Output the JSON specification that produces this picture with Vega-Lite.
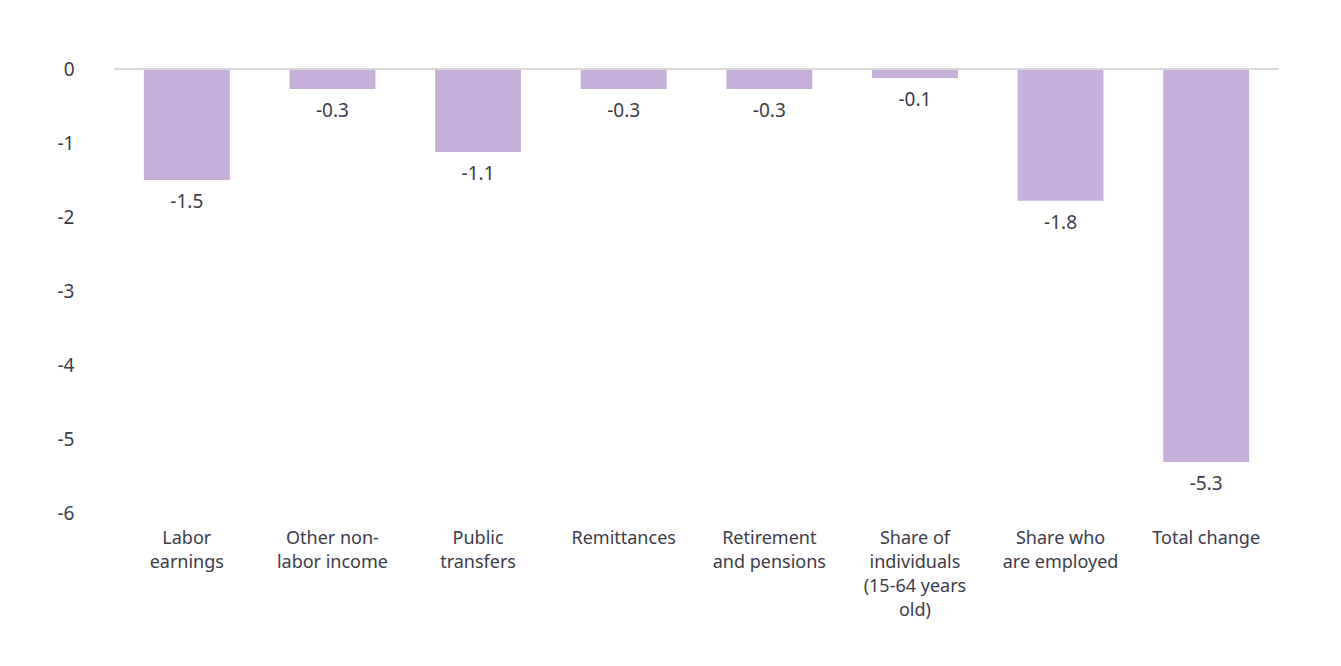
{
  "$schema": "https://vega.github.io/schema/vega-lite/v6.json",
  "width": 1165,
  "height": 444,
  "autosize": {"type": "none"},
  "padding": {"left": 114, "top": 69, "right": 62, "bottom": 153},
  "background": "white",
  "config": {
    "view": {"stroke": null},
    "font": "Noto Sans",
    "locale": {"number": {"decimal": ".", "thousands": ",", "grouping": [3], "currency": ["$", ""], "minus": "-"}},
    "axis": {"labelFont": "Noto Sans", "labelColor": "#3c3c4a", "grid": false, "ticks": false, "domain": false, "title": null}
  },
  "data": {
    "values": [
      {"category": "Labor earnings", "value": -1.5},
      {"category": "Other non-labor income", "value": -0.27},
      {"category": "Public transfers", "value": -1.12},
      {"category": "Remittances", "value": -0.27},
      {"category": "Retirement and pensions", "value": -0.27},
      {"category": "Share of individuals (15-64 years old)", "value": -0.12},
      {"category": "Share who are employed", "value": -1.78},
      {"category": "Total change", "value": -5.31}
    ]
  },
  "encoding": {
    "x": {
      "field": "category",
      "type": "nominal",
      "sort": null,
      "scale": {"paddingInner": 0.41, "paddingOuter": 0.205},
      "axis": {
        "labelAngle": 0,
        "labelFontSize": 18,
        "labelPadding": 16,
        "labelLineHeight": 24,
        "labelBaseline": "top",
        "labelLimit": 0,
        "labelExpr": "{'Labor earnings':['Labor','earnings'],'Other non-labor income':['Other non-','labor income'],'Public transfers':['Public','transfers'],'Remittances':['Remittances'],'Retirement and pensions':['Retirement','and pensions'],'Share of individuals (15-64 years old)':['Share of','individuals','(15-64 years','old)'],'Share who are employed':['Share who','are employed'],'Total change':['Total change']}[datum.value]"
      }
    },
    "y": {
      "field": "value",
      "type": "quantitative",
      "scale": {"domain": [-6, 0], "nice": false},
      "axis": {"values": [0, -1, -2, -3, -4, -5, -6], "format": "d", "labelFontSize": 19, "labelPadding": 40}
    }
  },
  "layer": [
    {"mark": {"type": "bar", "color": "#c6b0d9"}},
    {
      "mark": {"type": "rule", "color": "#d9d9d9", "strokeWidth": 2},
      "encoding": {"y": {"datum": 0}, "x": null}
    },
    {
      "mark": {"type": "text", "baseline": "top", "dy": 13, "fontSize": 19, "color": "#3c3c4a"},
      "encoding": {"text": {"field": "value", "type": "quantitative", "format": ".1f"}}
    }
  ]
}
